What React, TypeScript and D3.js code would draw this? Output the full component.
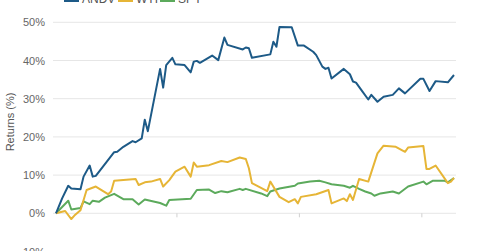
import React from "react";
import * as d3 from "d3";

const andvDays = [0, 2, 4, 5, 8, 9, 11, 12, 13, 19, 20, 22, 25, 26, 28, 29, 30, 34, 35, 36, 38, 39, 42, 44, 45, 46, 47, 51, 53, 55, 56, 61, 62, 63, 64, 70, 71, 72, 73, 77, 79, 81, 84, 85, 87, 88, 89, 90, 94, 96, 97, 98, 100, 102, 103, 105, 107, 110, 112, 114, 119, 120, 122, 124, 128, 130];
const andvValues = [0, 3.9, 7.2, 6.5, 6.3, 9.6, 12.5, 9.6, 9.8, 16, 16.1, 17.4, 18.9, 18.6, 19.6, 24.5, 21.5, 37.8, 32.9, 38.8, 40.7, 39, 38.8, 36.9, 39.7, 39.9, 39.4, 41.3, 40.1, 46, 44.1, 42.9, 43.4, 43.2, 40.7, 41.6, 44.9, 43.6, 48.8, 48.7, 43.9, 43.9, 42.3, 41.4, 38.4, 37.8, 38.1, 35.3, 37.8, 36.4, 34.5, 34.2, 32, 29.8, 31, 29.2, 30.5, 31, 32.7, 31.4, 35.2, 35.2, 32, 34.6, 34.3, 36.2];

const wtiDays = [0, 3, 5, 6, 8, 10, 13, 17, 18, 19, 26, 27, 29, 31, 34, 35, 37, 39, 42, 44, 45, 46, 50, 54, 56, 60, 62, 63, 64, 69, 70, 73, 76, 78, 79, 80, 85, 89, 90, 94, 95, 96, 97, 99, 102, 105, 107, 111, 114, 115, 120, 121, 122, 124, 128, 129, 130];
const wtiValues = [0, 0.6, -1.5, -0.6, 0.8, 6.1, 7, 5, 5.7, 8.5, 9, 7.4, 8.1, 8.3, 9, 7, 8.7, 10.9, 12.2, 9.6, 13.3, 12.2, 12.6, 13.7, 13.4, 14.6, 14.2, 11.8, 7.9, 5.8, 8.3, 4.3, 2.9, 3.7, 2.6, 4.3, 5, 6.1, 2.6, 3.9, 3.2, 5, 3.5, 9, 8.3, 15.7, 17.7, 17.4, 16.1, 17.2, 17.6, 11.6, 11.6, 12.5, 7.9, 8.3, 9.3];

const spyDays = [0, 4, 5, 8, 9, 11, 12, 14, 16, 19, 22, 25, 27, 29, 34, 36, 37, 44, 46, 50, 52, 54, 56, 60, 61, 62, 67, 69, 70, 73, 78, 79, 83, 86, 88, 90, 94, 96, 97, 99, 101, 103, 104, 106, 110, 112, 115, 120, 121, 123, 127, 128, 130];
const spyValues = [0, 3.3, 1.0, 1.4, 3.1, 2.4, 3.3, 3, 4.1, 5.1, 3.7, 3.7, 2.3, 3.6, 2.7, 2.0, 3.5, 3.8, 6.1, 6.2, 5.3, 5.8, 5.5, 6.4, 6.1, 6.4, 5.2, 4.5, 5.7, 6.5, 7.2, 7.8, 8.3, 8.5, 8.1, 7.6, 7.2, 6.7, 7.2, 6.4, 5.7, 5.2, 4.6, 5.2, 5.7, 5.2, 7, 8.3, 7.6, 8.5, 8.5, 8.1, 9.2];

const seriesNames = ["ANDV", "WTI", "SPY"];
const seriesColors = ["#1d5a87", "#e6b536", "#5caa5c"];
const yTicks = [-10, 0, 10, 20, 30, 40, 50];
const xTickDays = [39.5, 79.5, 119.5];

export default function App() {
  const W = 480;
  const H = 251;
  const x = d3.scaleLinear().domain([0, 130]).range([56, 454]);
  const y = d3.scaleLinear().domain([0, 50]).range([213.3, 22.3]);
  const series = [
    { days: andvDays, values: andvValues },
    { days: wtiDays, values: wtiValues },
    { days: spyDays, values: spyValues },
  ];
  const line = d3
    .line<[number, number]>()
    .x((d) => x(d[0]))
    .y((d) => y(d[1]));
  const legendX = [64, 118, 160];
  const font = "'Liberation Sans', Arial, sans-serif";
  return (
    <svg
      width={W}
      height={H}
      style={{ position: "fixed", left: 0, top: 0, background: "#fff" }}
      fontFamily={font}
    >
      {yTicks.map((t) => (
        <g key={t}>
          {t !== -10 && (
            <line x1={53} x2={456} y1={y(t)} y2={y(t)} stroke="#e6e6e6" strokeWidth={1} />
          )}
          <text x={45} y={y(t) + 4} textAnchor="end" fontSize={11} fill="#666">
            {t + "%"}
          </text>
        </g>
      ))}
      {xTickDays.map((d) => (
        <line key={d} x1={x(d)} x2={x(d)} y1={y(0)} y2={y(0) + 4} stroke="#d0d0d0" strokeWidth={1} />
      ))}
      <text
        transform={`translate(14,122) rotate(-90)`}
        textAnchor="middle"
        fontSize={11}
        fill="#555"
      >
        Returns (%)
      </text>
      {[2, 1, 0].map((k) => {
        const s = series[k];
        const pts = s.days.map((d, i) => [d, s.values[i]] as [number, number]);
        return (
          <path
            key={k}
            d={line(pts) || ""}
            fill="none"
            stroke={seriesColors[k]}
            strokeWidth={2}
            strokeLinejoin="round"
          />
        );
      })}
      {seriesNames.map((n, k) => (
        <g key={n}>
          <rect x={legendX[k]} y={-6} width={15} height={8} fill={seriesColors[k]} />
          <text x={legendX[k] + 18} y={3} fontSize={12} fill="#555">
            {n}
          </text>
        </g>
      ))}
    </svg>
  );
}
